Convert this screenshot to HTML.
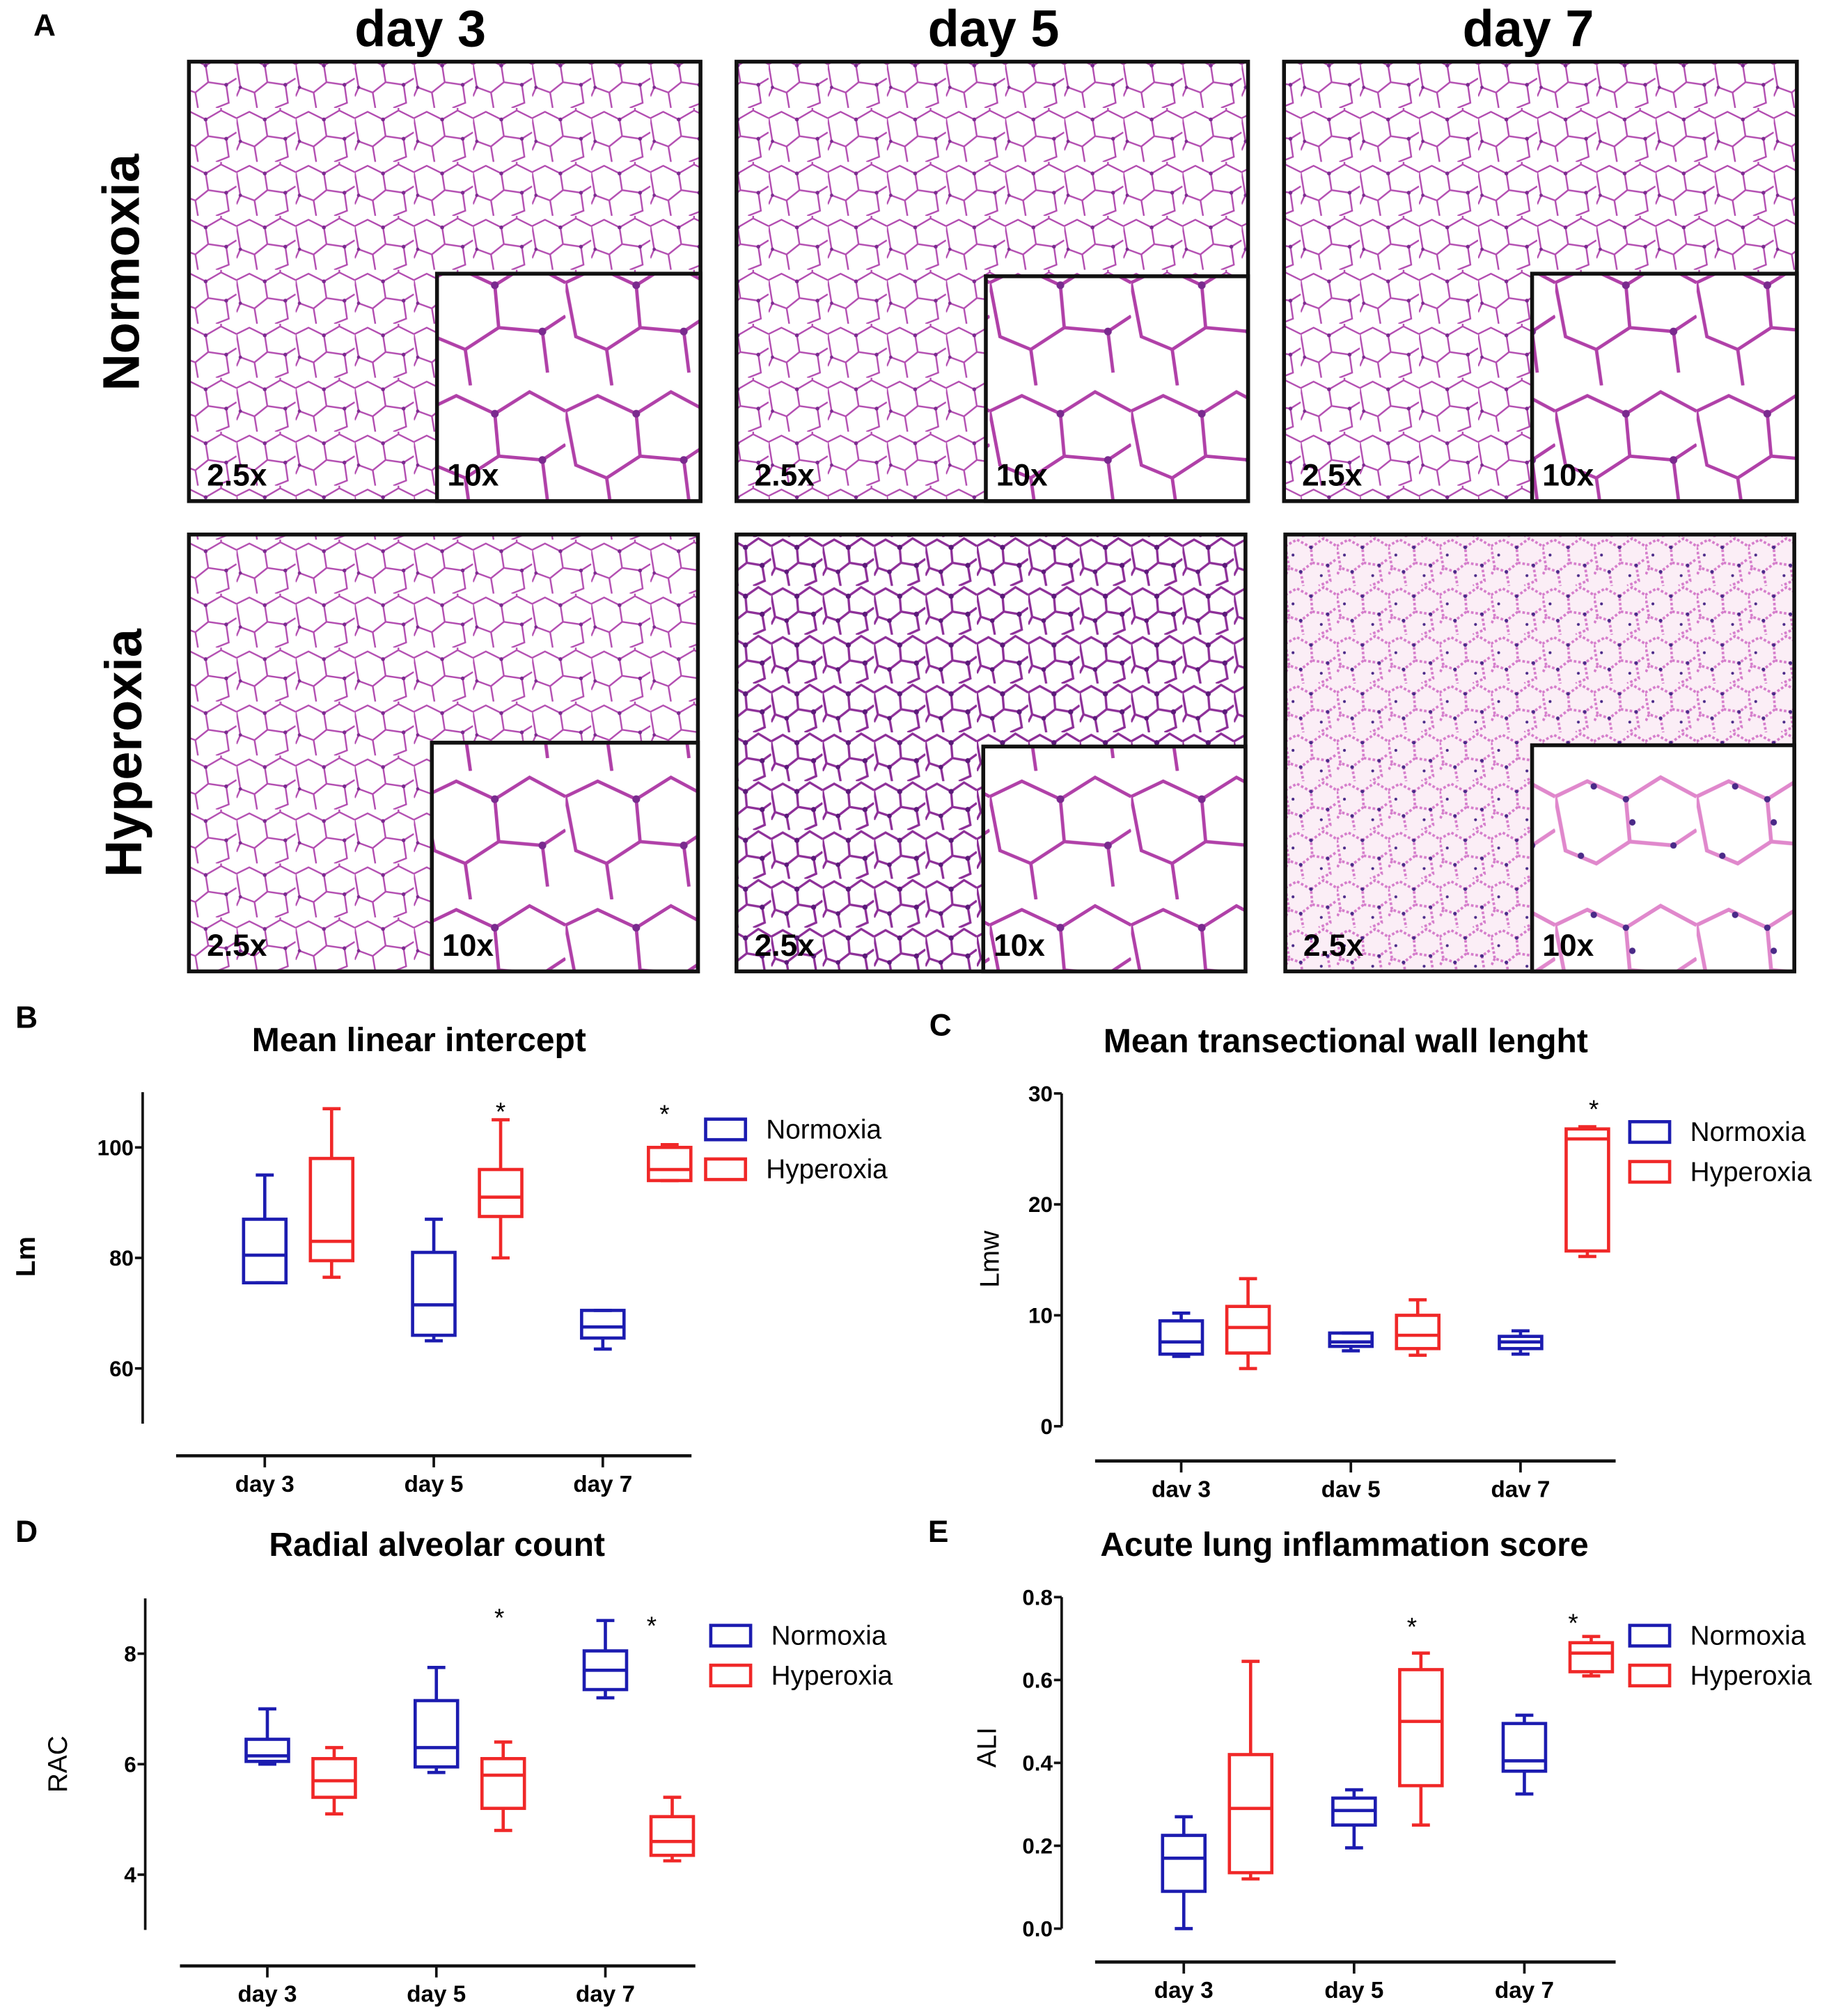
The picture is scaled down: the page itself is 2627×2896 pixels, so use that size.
<!DOCTYPE html>
<html><head><meta charset="utf-8"><style>
html,body{margin:0;padding:0;background:#fff;}
svg{display:block;}
text{font-family:"Liberation Sans",sans-serif;}
</style></head><body>
<svg id="fig" xmlns="http://www.w3.org/2000/svg" width="2627" height="2896" viewBox="0 0 1423 1569" preserveAspectRatio="none">
<defs>
<pattern id="tis" width="46" height="42" patternUnits="userSpaceOnUse">
<rect width="46" height="42" fill="#fff"/>
<path d="M0 8 L10 3 L22 9 L24 22 L14 30 L3 26 Z M22 9 L34 2 L46 8 M24 22 L38 24 L46 19 M14 30 L16 42 M38 24 L40 38 L30 42 M3 26 L0 33 M34 2 L34 0" fill="none" stroke="#b24cb0" stroke-width="1.3"/>
<circle cx="22" cy="9" r="1.5" fill="#7a2a8e"/><circle cx="38" cy="24" r="1.5" fill="#7a2a8e"/><circle cx="3" cy="26" r="1.3" fill="#7a2a8e"/>
</pattern>
<pattern id="tisD" width="40" height="38" patternUnits="userSpaceOnUse">
<rect width="40" height="38" fill="#fff"/>
<path d="M0 7 L9 2 L20 8 L21 20 L12 27 L3 24 Z M20 8 L30 1 L40 7 M21 20 L33 22 L40 17 M12 27 L14 38 M33 22 L35 34 L26 38 M3 24 L0 30" fill="none" stroke="#8d2f98" stroke-width="1.8"/>
<circle cx="20" cy="8" r="2" fill="#5a1a78"/><circle cx="33" cy="22" r="2" fill="#5a1a78"/><circle cx="12" cy="27" r="1.8" fill="#5a1a78"/>
</pattern>
<pattern id="tisH" width="40" height="38" patternUnits="userSpaceOnUse">
<rect width="40" height="38" fill="#fbeef6"/>
<path d="M0 7 L9 2 L20 8 L21 20 L12 27 L3 24 Z M20 8 L30 1 L40 7 M21 20 L33 22 L40 17 M12 27 L14 38 M33 22 L35 34 L26 38 M3 24 L0 30" fill="none" stroke="#d57ccb" stroke-width="2" stroke-dasharray="2 1.5"/>
<circle cx="20" cy="8" r="1.4" fill="#4a2a88"/><circle cx="33" cy="22" r="1.4" fill="#4a2a88"/><circle cx="12" cy="27" r="1.4" fill="#4a2a88"/><circle cx="6" cy="14" r="1.1" fill="#4a2a88"/><circle cx="28" cy="30" r="1.1" fill="#4a2a88"/>
</pattern>
<pattern id="zoomN" width="110" height="100" patternUnits="userSpaceOnUse">
<rect width="110" height="100" fill="#fff"/>
<path d="M0 20 L25 8 L55 22 L58 55 L32 72 L8 62 Z M55 22 L82 5 L110 20 M58 55 L92 58 L110 46 M32 72 L36 100 M92 58 L96 90" fill="none" stroke="#b040a8" stroke-width="2.6"/>
<circle cx="55" cy="22" r="3" fill="#7a2a8e"/><circle cx="92" cy="58" r="3" fill="#7a2a8e"/>
</pattern>
<pattern id="zoomH" width="110" height="100" patternUnits="userSpaceOnUse">
<rect width="110" height="100" fill="#fff"/>
<path d="M0 20 L25 8 L55 22 L58 55 L32 72 L8 62 Z M55 22 L82 5 L110 20 M58 55 L92 58 L110 46" fill="none" stroke="#e088cc" stroke-width="3"/>
<circle cx="55" cy="22" r="2.5" fill="#4a2a88"/><circle cx="92" cy="58" r="2.5" fill="#4a2a88"/><circle cx="30" cy="12" r="2.5" fill="#4a2a88"/><circle cx="60" cy="40" r="2.5" fill="#4a2a88"/><circle cx="20" cy="66" r="2.5" fill="#4a2a88"/>
</pattern>
</defs>

<text x="26" y="28" font-size="24" font-weight="bold">A</text>
<text x="327" y="36" font-size="40" font-weight="bold" text-anchor="middle">day 3</text>
<text x="773" y="36" font-size="40" font-weight="bold" text-anchor="middle">day 5</text>
<text x="1189" y="36" font-size="40" font-weight="bold" text-anchor="middle">day 7</text>
<text transform="translate(108,212) rotate(-90)" font-size="40" font-weight="bold" text-anchor="middle">Normoxia</text>
<text transform="translate(110,586) rotate(-90)" font-size="40" font-weight="bold" text-anchor="middle">Hyperoxia</text>
<g id="histo"></g>

<g id="charts"></g>
</svg>
<script>
// ---- chart data ----
const categories = ["day 3","day 5","day 7"];
const categoriesC = ["dav 3","dav 5","dav 7"];
// each entry: [whiskerLow, q1, median, q3, whiskerHigh]
const lmNormoxia = [[75.5,75.5,80.5,87,95],[65,66,71.5,81,87],[63.5,65.5,67.5,70.5,70.5]];
const lmHyperoxia = [[76.5,79.5,83,98,107],[80,87.5,91,96,105],[94,94,96,100,100.5]];
const lmTicks = [60,80,100];
const lmwNormoxia = [[6.3,6.5,7.6,9.5,10.2],[6.8,7.2,7.6,8.4,8.4],[6.5,7.0,7.6,8.1,8.6]];
const lmwHyperoxia = [[5.2,6.6,8.9,10.8,13.3],[6.4,7.0,8.2,10.0,11.4],[15.3,15.8,25.9,26.8,27.0]];
const lmwTicks = [0,10,20,30];
const racNormoxia = [[6.0,6.05,6.15,6.45,7.0],[5.85,5.95,6.3,7.15,7.75],[7.2,7.35,7.7,8.05,8.6]];
const racHyperoxia = [[5.1,5.4,5.7,6.1,6.3],[4.8,5.2,5.8,6.1,6.4],[4.25,4.35,4.6,5.05,5.4]];
const racTicks = [4,6,8];
const aliNormoxia = [[0.0,0.09,0.17,0.225,0.27],[0.195,0.25,0.285,0.315,0.335],[0.325,0.38,0.405,0.495,0.515]];
const aliHyperoxia = [[0.12,0.135,0.29,0.42,0.645],[0.25,0.345,0.5,0.625,0.665],[0.61,0.62,0.665,0.69,0.705]];
const aliTicks = ["0.0","0.2","0.4","0.6","0.8"];

const NS="http://www.w3.org/2000/svg";
const BLUE="#1c1cb0", RED="#f02828";
function mk(tag, attrs, parent){const e=document.createElementNS(NS,tag);for(const k in attrs)e.setAttribute(k,attrs[k]);parent.appendChild(e);return e;}

// ---- histology panels ----
const histo=document.getElementById('histo');
const panels=[
 {x:147,y:48,w:398,h:342,ix:340,iy:213,f:"tis",z:"zoomN",n:"normoxia-day3"},
 {x:573,y:48,w:398,h:342,ix:767,iy:215,f:"tis",z:"zoomN",n:"normoxia-day5"},
 {x:999,y:48,w:399,h:342,ix:1192,iy:213,f:"tis",z:"zoomN",n:"normoxia-day7"},
 {x:147,y:416,w:396,h:340,ix:336,iy:578,f:"tis",z:"zoomN",n:"hyperoxia-day3"},
 {x:573,y:416,w:396,h:340,ix:765,iy:581,f:"tisD",z:"zoomN",n:"hyperoxia-day5"},
 {x:1000,y:416,w:396,h:340,ix:1192,iy:580,f:"tisH",z:"zoomH",n:"hyperoxia-day7"}
];
panels.forEach(p=>{
 const g=mk('g',{},histo);
 
 
 mk('rect',{x:p.x,y:p.y,width:p.w,height:p.h,fill:'url(#'+p.f+')',stroke:'#111','stroke-width':3},g);
 const ins=mk('rect',{x:p.ix,y:p.iy,width:p.x+p.w-p.ix,height:p.y+p.h-p.iy,fill:'url(#'+p.z+')',stroke:'#111','stroke-width':3},g);
 
 
 const t1=mk('text',{x:p.x+14,y:p.y+p.h-12,'font-size':24,'font-weight':'bold'},g);t1.textContent='2.5x';
 
 
 const t2=mk('text',{x:p.ix+8,y:p.y+p.h-12,'font-size':24,'font-weight':'bold'},g);t2.textContent='10x';
 
 
});

// ---- box charts ----
const charts=document.getElementById('charts');
function boxChart(c){
 const g=mk('g',{},charts);
 
 
 const Y=v=>c.y0px-(v-c.v0)*(c.y1px-c.y0px)/(c.v0-c.v1);
 const lt=mk('text',{x:c.letter[0],y:c.letter[1],'font-size':24,'font-weight':'bold'},g);lt.textContent=c.letterText;
 
 
 const tt=mk('text',{x:c.title[0],y:c.title[1],'font-size':26,'font-weight':'bold','text-anchor':'middle'},g);tt.textContent=c.titleText;
 
 
 const ya=mk('line',{x1:c.ax,x2:c.ax,y1:Y(c.axMax),y2:Y(c.axMin),stroke:'#111','stroke-width':2},g);
 
 
 c.ticks.forEach(t=>{
  const v=parseFloat(t);
  mk('line',{x1:c.ax-6,x2:c.ax,y1:Y(v),y2:Y(v),stroke:'#111','stroke-width':2},g);
  const tl=mk('text',{x:c.ax-7,y:Y(v)+6,'font-size':17,'font-weight':'bold','text-anchor':'end'},g);tl.textContent=t;
  
  
 });
 const yt=mk('text',{transform:`translate(${c.ytitle[0]},${c.ytitle[1]}) rotate(-90)`,'font-size':21,'font-weight':c.ytBold?'bold':'normal','text-anchor':'middle'},g);yt.textContent=c.ytText;
 
 
 const xa=mk('line',{x1:c.xa[0],x2:c.xa[1],y1:c.xay,y2:c.xay,stroke:'#111','stroke-width':2.5},g);
 
 
 c.cats.forEach((cat,i)=>{
  const x=c.cx0+i*c.cstep;
  mk('line',{x1:x,x2:x,y1:c.xay,y2:c.xay+9,stroke:'#111','stroke-width':2},g);
  const cl=mk('text',{x:x,y:c.xay+28,'font-size':18,'font-weight':'bold','text-anchor':'middle'},g);cl.textContent=cat;
  
  
  [[c.norm[i],BLUE,0,'normoxia'],[c.hyp[i],RED,52,'hyperoxia']].forEach(([d,col,off,nm])=>{
   const cx=x+off, w=33;
   const b=mk('g',{fill:'none',stroke:col,'stroke-width':2.5},g);
   
   
   mk('line',{x1:cx,x2:cx,y1:Y(d[0]),y2:Y(d[1])},b);
   mk('line',{x1:cx,x2:cx,y1:Y(d[3]),y2:Y(d[4])},b);
   mk('line',{x1:cx-7,x2:cx+7,y1:Y(d[0]),y2:Y(d[0])},b);
   mk('line',{x1:cx-7,x2:cx+7,y1:Y(d[4]),y2:Y(d[4])},b);
   mk('rect',{x:cx-w/2,y:Y(d[3]),width:w,height:Math.max(1,Y(d[1])-Y(d[3]))},b);
   mk('line',{x1:cx-w/2,x2:cx+w/2,y1:Y(d[2]),y2:Y(d[2])},b);
  });
 });
 c.stars.forEach(s=>{
  const st=mk('text',{x:c.cx0+s[0]*c.cstep+s[1],y:s[2],'font-size':20,'text-anchor':'middle'},g);st.textContent='*';
  
  
 });
 [[BLUE,'Normoxia',0],[RED,'Hyperoxia',31]].forEach(([col,lab,dy])=>{
  const lg=mk('g',{},g);
  
  
  mk('rect',{x:c.leg[0],y:c.leg[1]+dy,width:31,height:16,fill:'none',stroke:col,'stroke-width':2.5},lg);
  const lt2=mk('text',{x:c.leg[0]+47,y:c.leg[1]+dy+15,'font-size':21},lg);lt2.textContent=lab;
 });
}
boxChart({name:'chart-mean-linear-intercept',letterText:'B',letter:[12,800],titleText:'Mean linear intercept',title:[326,818],
 ax:111,v0:80,y0px:979,v1:100,y1px:893,axMin:50,axMax:110,ticks:lmTicks.map(String),ytText:'Lm',ytBold:true,ytitle:[27,978],
 xa:[137,538],xay:1133,cats:categories,cx0:206,cstep:131.5,norm:lmNormoxia,hyp:lmHyperoxia,stars:[[1,52,872],[2,48,874]],leg:[549,871]});
boxChart({name:'chart-mean-transectional-wall-length',letterText:'C',letter:[723,806],titleText:'Mean transectional wall lenght',title:[1047,819],
 ax:826,v0:0,y0px:1110,v1:30,y1px:851,axMin:0,axMax:30,ticks:lmwTicks.map(String),ytText:'Lmw',ytBold:false,ytitle:[777,980],
 xa:[852,1257],xay:1137,cats:categoriesC,cx0:919,cstep:132,norm:lmwNormoxia,hyp:lmwHyperoxia,stars:[[2,57,870]],leg:[1268,873]});
boxChart({name:'chart-radial-alveolar-count',letterText:'D',letter:[12,1200],titleText:'Radial alveolar count',title:[340,1211],
 ax:113,v0:6,y0px:1373,v1:8,y1px:1287,axMin:3,axMax:9,ticks:racTicks.map(String),ytText:'RAC',ytBold:false,ytitle:[52,1373],
 xa:[140,541],xay:1530,cats:categories,cx0:208,cstep:131.5,norm:racNormoxia,hyp:racHyperoxia,stars:[[1,49,1266],[2,36,1272]],leg:[553,1265]});
boxChart({name:'chart-acute-lung-inflammation-score',letterText:'E',letter:[722,1200],titleText:'Acute lung inflammation score',title:[1046,1211],
 ax:826,v0:0,y0px:1501,v1:0.8,y1px:1243,axMin:0,axMax:0.8,ticks:aliTicks,ytText:'ALI',ytBold:false,ytitle:[775,1360],
 xa:[852,1257],xay:1527,cats:categories,cx0:921,cstep:132.5,norm:aliNormoxia,hyp:aliHyperoxia,stars:[[1,45,1273],[2,38,1270]],leg:[1268,1265]});
</script>
</body></html>
